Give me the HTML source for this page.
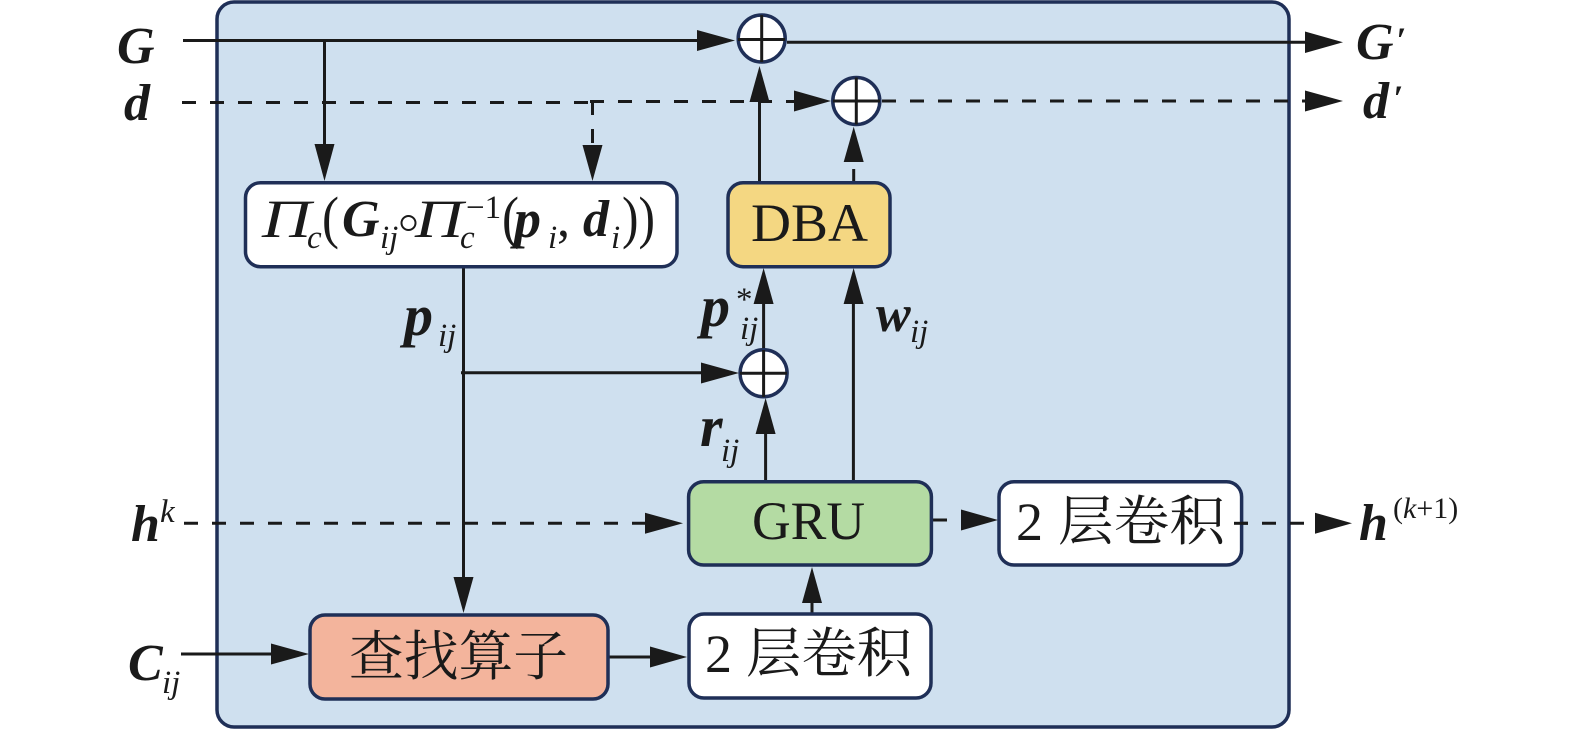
<!DOCTYPE html>
<html><head><meta charset="utf-8"><style>
html,body{margin:0;padding:0;background:#fff;width:1575px;height:729px;overflow:hidden}
svg{display:block}
text{font-family:"Liberation Serif","Noto Serif CJK SC",serif;fill:#1a1a1a}
.b{font-weight:bold;font-style:italic;font-size:52px}
.bp{font-weight:bold;font-style:italic;font-size:58px}
.i{font-style:italic;font-size:54px}
.s{font-style:italic;font-size:33px}
.r{font-size:54px}
.box{stroke:#1f2f57;stroke-width:3.5}
.l{stroke:#1a1a1a;stroke-width:3;fill:none}
.d{stroke:#1a1a1a;stroke-width:3;fill:none;stroke-dasharray:14 14}
.h{fill:#1a1a1a}
.c{fill:#fff;stroke:#1f2f57;stroke-width:3.5}
</style></head><body>
<svg width="1575" height="729" viewBox="0 0 1575 729" xmlns="http://www.w3.org/2000/svg">
<rect x="217" y="2" width="1072" height="725" rx="17" fill="#cfe0ef" stroke="#1f2f57" stroke-width="3.5"/>

<!-- lines -->
<path class="l" d="M183 40.5H700M324.5 40.5V146M787 42.3H1308"/>
<path class="d" d="M182 102.5H590"/>
<path class="d" d="M590 101.5H796"/>
<path class="d" d="M592.5 101V148"/>
<path class="d" d="M882 101H1310"/>
<path class="l" d="M759.5 100V183M853.7 169V182"/>
<path class="l" d="M763.6 300V352M853.4 300V482M765.6 430V482M463.5 266V580M461 372.7H703"/>
<path class="d" d="M184 523.3H648"/>
<path class="d" d="M933 520H962"/>
<path class="d" d="M1234 523.3H1318"/>
<path class="l" d="M812 600V615"/>
<path class="l" d="M181 654H273M608 657H652"/>

<!-- arrowheads -->
<path class="h" d="M697 30L735 40.5L697 51Z"/>
<path class="h" d="M1305 31.5L1343 42.3L1305 53Z"/>
<path class="h" d="M794 90.5L831 101L794 111.5Z"/>
<path class="h" d="M1305 90.5L1343 101L1305 111.5Z"/>
<path class="h" d="M314.5 144H334.5L324.5 181Z"/>
<path class="h" d="M582.5 145H602.5L592.5 181Z"/>
<path class="h" d="M759.5 66L769.5 102H749.5Z"/>
<path class="h" d="M853.7 126.7L863.7 162H843.7Z"/>
<path class="h" d="M763.6 268L773.6 304H753.6Z"/>
<path class="h" d="M853.6 268L863.6 304H843.6Z"/>
<path class="h" d="M701 362.5L739 373L701 383.5Z"/>
<path class="h" d="M765.6 398L775.6 434H755.6Z"/>
<path class="h" d="M645 512.8L683 523.3L645 533.8Z"/>
<path class="h" d="M961 509.5L998 520L961 530.5Z"/>
<path class="h" d="M1315 512.8L1352 523.3L1315 533.8Z"/>
<path class="h" d="M453.5 577H473.5L463.5 613Z"/>
<path class="h" d="M812 567L822 603H802Z"/>
<path class="h" d="M271 643.5L309 654L271 664.5Z"/>
<path class="h" d="M650 646.5L687 657L650 667.5Z"/>

<!-- circles -->
<circle class="c" cx="761.7" cy="38.5" r="23.5"/>
<path class="l" d="M761.7 15V62M738 39.5H785"/>
<circle class="c" cx="856.3" cy="101" r="23.5"/>
<path class="l" d="M856.3 77.5V124.5M833 101H880"/>
<circle class="c" cx="763.6" cy="373.3" r="23.5"/>
<path class="l" d="M763.6 350V397M740 373.3H787"/>

<!-- boxes -->
<rect class="box" x="245.5" y="182.7" width="431.5" height="84" rx="15" fill="#fff"/>
<rect class="box" x="728" y="182.7" width="162" height="84" rx="15" fill="#f4d782"/>
<rect class="box" x="688.6" y="481.7" width="242.8" height="83.3" rx="15" fill="#b4dba3"/>
<rect class="box" x="999" y="481.7" width="242.6" height="83.3" rx="15" fill="#fff"/>
<rect class="box" x="310" y="615" width="298" height="84" rx="15" fill="#f3b49c"/>
<rect class="box" x="689" y="614" width="242" height="84" rx="15" fill="#fff"/>
<path class="d" d="M1234 523.3H1248" />

<!-- box text -->
<text class="r" x="751" y="241" textLength="117" lengthAdjust="spacingAndGlyphs">DBA</text>
<text class="r" x="752" y="539" textLength="113" lengthAdjust="spacingAndGlyphs">GRU</text>
<text class="r" x="349" y="675" textLength="219" lengthAdjust="spacingAndGlyphs">查找算子</text>
<text class="r" x="705" y="672">2</text>
<text class="r" x="746" y="672" textLength="166" lengthAdjust="spacingAndGlyphs">层卷积</text>
<text class="r" x="1016" y="540">2</text>
<text class="r" x="1058" y="540" textLength="167" lengthAdjust="spacingAndGlyphs">层卷积</text>

<!-- formula -->
<text class="i" x="262" y="237" textLength="49" lengthAdjust="spacingAndGlyphs">Π</text>
<text class="s" x="307" y="248">c</text>
<text x="322" y="237" style="font-size:58px" textLength="17" lengthAdjust="spacingAndGlyphs">(</text>
<text class="b" x="342" y="236">G</text>
<text class="s" x="380" y="248">ij</text>
<circle cx="408.5" cy="223" r="7" fill="none" stroke="#1a1a1a" stroke-width="2"/>
<text class="i" x="415" y="237" textLength="48" lengthAdjust="spacingAndGlyphs">Π</text>
<text class="s" x="460" y="248">c</text>
<text x="466" y="218" style="font-size:33px">−1</text>
<text x="502" y="237" style="font-size:58px" textLength="17" lengthAdjust="spacingAndGlyphs">(</text>
<text class="bp" x="514" y="237" style="font-size:54px">p</text>
<text class="s" x="548" y="248">i</text>
<text x="557" y="236" style="font-size:52px">,</text>
<text class="b" x="583" y="236">d</text>
<text class="s" x="611" y="248">i</text>
<text x="622" y="237" style="font-size:58px" textLength="33" lengthAdjust="spacingAndGlyphs">))</text>

<!-- labels -->
<text class="b" x="117" y="63">G</text>
<text class="b" x="124" y="120">d</text>
<text class="b" x="1356" y="59">G</text>
<text class="i" x="1396" y="52" style="font-size:36px;font-weight:bold">′</text>
<text class="b" x="1363" y="118">d</text>
<text class="i" x="1393" y="110" style="font-size:36px;font-weight:bold">′</text>
<text class="bp" x="404" y="335">p</text>
<text class="s" x="438" y="346">ij</text>
<text class="bp" x="701" y="326">p</text>
<text class="s" x="736" y="310" style="font-style:normal">*</text>
<text class="s" x="740" y="339">ij</text>
<text class="b" x="876" y="331">w</text>
<text class="s" x="910" y="342">ij</text>
<text class="bp" x="700" y="446">r</text>
<text class="s" x="721" y="461">ij</text>
<text class="b" x="131" y="541">h</text>
<text class="s" x="160" y="522">k</text>
<text class="b" x="1359" y="540">h</text>
<text x="1393" y="518" style="font-size:30px">(<tspan font-style="italic">k</tspan>+1)</text>
<text class="b" x="128" y="680">C</text>
<text class="s" x="162" y="693">ij</text>
</svg>
</body></html>
